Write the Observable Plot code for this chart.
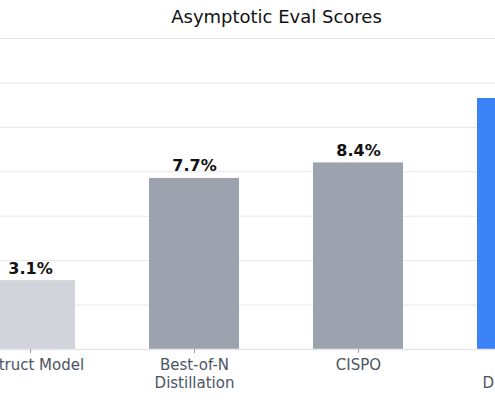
<!DOCTYPE html>
<html><head><meta charset="utf-8">
<script src="https://cdn.jsdelivr.net/npm/d3@7"></script>
<script src="https://cdn.jsdelivr.net/npm/@observablehq/plot@0.6"></script>
<style>
body{margin:0;background:#fff;overflow:hidden;font-family:"DejaVu Sans",sans-serif;}
#wrap{margin-left:-101px;width:760px;}
#title{box-sizing:border-box;height:30px;padding:0 15px 0 10px;text-align:center;font-size:18px;line-height:34px;color:#111;white-space:nowrap;}
</style></head><body>
<div id="wrap"><div id="title">Asymptotic Eval Scores</div><div id="chart"></div></div>
<script>
const methods = ["Instruct Model", "Best-of-N\nDistillation", "CISPO", "Self-\nDistillation"];
const scores = [3.1, 7.7, 8.4, 11.3];
const barColors = ["#d1d5db", "#9ca3af", "#9ca3af", "#3b82f6"];
const yTicks = [2, 4, 6, 8, 10, 12, 14];

const data = methods.map((m, i) => ({method: m, score: scores[i], color: barColors[i]}));

const chart = Plot.plot({
  width: 760, height: 370,
  marginLeft: 10, marginRight: 16, marginTop: 8, marginBottom: 51,
  style: {fontFamily: "DejaVu Sans", background: "#fff"},
  x: {domain: methods, padding: 0.45, label: null},
  y: {domain: [0, 14], axis: null},
  color: {type: "identity"},
  marks: [
    Plot.gridY(yTicks, {stroke: "#e5e7eb", strokeOpacity: 1}),
    Plot.barY(data, {x: "method", y: "score", fill: d => d.color}),
    Plot.ruleY([0], {stroke: "#e5e7eb", strokeWidth: 1.5}),
    Plot.text(data, {x: "method", y: "score", text: d => d.score.toFixed(1) + "%", dy: -7, lineAnchor: "bottom", fontSize: 16, fontWeight: "bold", fill: "#111"}),
    Plot.axisX({tickSize: 4, stroke: "#9ca3af", fontSize: 15, fill: "#4b5563", lineHeight: 1.18, tickPadding: 4, label: null})
  ]
});
document.getElementById("chart").appendChild(chart);
</script>
</body></html>
